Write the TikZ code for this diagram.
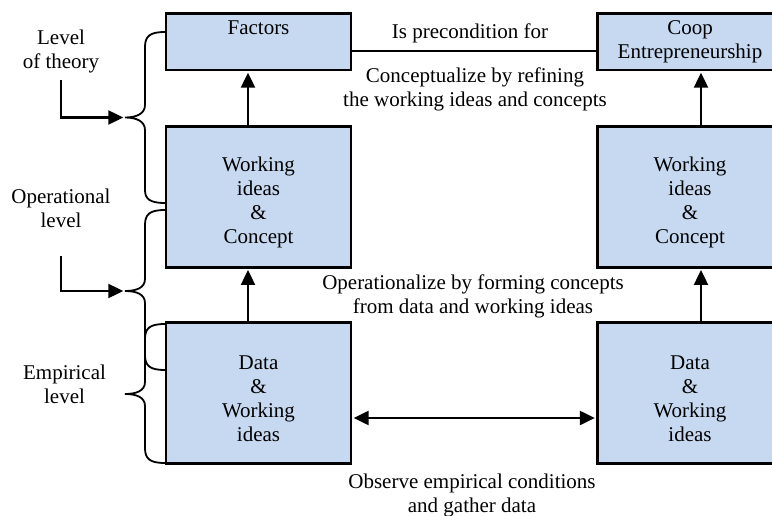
\documentclass[tikz,border=0pt]{standalone}
\usepackage{fontspec}
\setmainfont{Liberation Serif}
\usetikzlibrary{arrows.meta}
\definecolor{boxblue}{RGB}{198,217,241}
\begin{document}
\begin{tikzpicture}[x=1pt,y=-1pt,
  txt/.style={font=\fontsize{21}{24}\selectfont},
  box/.style={txt, draw=black, line width=2.7pt, fill=boxblue, inner sep=0pt,
    minimum width=185pt, align=center},
  tall/.style={box, minimum height=140.6pt},
  lbl/.style={txt, align=center, inner sep=0pt},
  arr/.style={line width=2.2pt, -{Triangle[width=14pt,length=15pt]}},
  dbl/.style={line width=2.2pt, {Triangle[width=14pt,length=15pt]}-{Triangle[width=14pt,length=15pt]}},
  brc/.style={line width=1.8pt},
]
\useasboundingbox (0,0) rectangle (772,516);

% boxes
\node[box, minimum height=56.7pt, text height=21pt, text depth=35.7pt] (fac) at (258.5,41.7) {Factors};
\node[box, minimum height=56.7pt] (coop) at (690,41.7) {Coop\\Entrepreneurship};
\node[tall] (wl) at (258.5,197) {\rule{0pt}{26pt}Working\\ideas\\\&\\Concept};
\node[tall] (dl) at (258.5,393) {\rule{0pt}{26pt}Data\\\&\\Working\\ideas};
\node[tall] (wr) at (690,197) {\rule{0pt}{26pt}Working\\ideas\\\&\\Concept};
\node[tall] (dr) at (690,393) {\rule{0pt}{26pt}Data\\\&\\Working\\ideas};

% connectors
\draw[line width=1.8pt] ([yshift=-9.3pt]fac.east) -- ([yshift=-9.3pt]coop.west);
\draw[arr, shorten >=1.3pt] ([xshift=-10.5pt]wl.north) -- ([xshift=-10.5pt]fac.south);
\draw[arr, shorten >=1.3pt] ([xshift=-10.5pt]dl.north) -- ([xshift=-10.5pt]wl.south);
\draw[arr, shorten >=1.3pt] ([xshift=11pt]wr.north) -- ([xshift=11pt]coop.south);
\draw[arr, shorten >=1.3pt] ([xshift=11pt]dr.north) -- ([xshift=11pt]wr.south);
\draw[dbl, shorten >=1.3pt, shorten <=1.3pt] ([yshift=-25pt]dl.east) -- ([yshift=-25pt]dr.west);

% connector labels
\node[lbl] (pre) at (470,33.5) {Is precondition for};
\node[lbl] (conc) at (475,89) {Conceptualize by refining\\the working ideas and concepts};
\node[lbl] (oper) at (473,296.5) {Operationalize by forming concepts\\from data and working ideas};
\node[lbl] (obs) at (472,495.5) {Observe empirical conditions\\and gather data};

% level labels
\node[lbl] (lt) at (61,51.5) {Level\\of theory};
\node[lbl] (lo) at (61,208) {Operational\\level};
\node[lbl] (le) at (64.5,384.5) {Empirical\\level};

% braces
\coordinate (t1) at (125,117.5);
\coordinate (t2) at (125,291);
\coordinate (t3) at (125,394);
\draw[brc] (165,32) .. controls (150,32) and (145,36) .. (145,47) -- (145,105)
  .. controls (145,114) and (136,117.5) .. (t1)
  .. controls (136,117.5) and (145,121) .. (145,130) -- (145,190)
  .. controls (145,199) and (150,203) .. (165,203);
\draw[brc] (165,210) .. controls (150,210) and (145,214) .. (145,225) -- (145,279)
  .. controls (145,288) and (136,291) .. (t2)
  .. controls (136,291) and (145,294) .. (145,303) -- (145,355)
  .. controls (145,366) and (150,370) .. (165,370);
\draw[brc] (165,324) .. controls (150,324) and (145,328) .. (145,339) -- (145,382)
  .. controls (145,391) and (136,394) .. (t3)
  .. controls (136,394) and (145,397) .. (145,406) -- (145,448)
  .. controls (145,459) and (150,463) .. (165,463);

% level arrows
\coordinate (s1) at (60.7,80);
\coordinate (s2) at (60.7,256);
\draw[arr, shorten >=1.7pt] (s1) |- (t1);
\draw[arr, shorten >=1.7pt] (s2) |- (t2);
\end{tikzpicture}
\end{document}
